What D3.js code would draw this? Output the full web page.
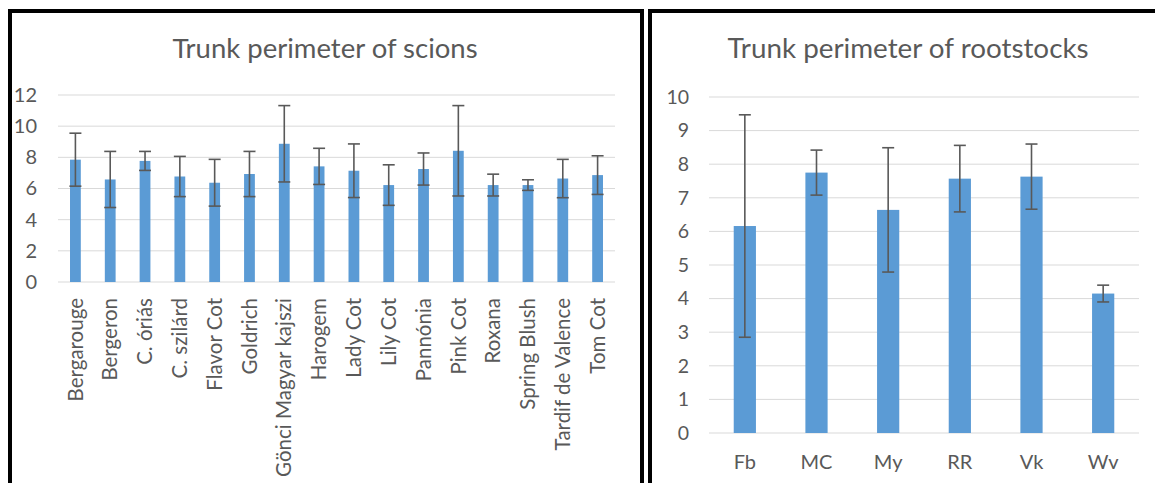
<!DOCTYPE html>
<html><head><meta charset="utf-8">
<script src="https://cdn.jsdelivr.net/npm/d3@7"></script>
<style>body{margin:0;background:#fff;} text{font-family:Lato,"Open Sans",sans-serif;fill:#595959;}</style>
</head><body>
<svg id="c" width="1155" height="483"></svg>
<script>
const scionCats = ["Bergarouge","Bergeron","C. óriás","C. szilárd","Flavor Cot","Goldrich","Gönci Magyar kajszi","Harogem","Lady Cot","Lily Cot","Pannónia","Pink Cot","Roxana","Spring Blush","Tardif de Valence","Tom Cot"];
const scionVals = [7.85,6.58,7.77,6.77,6.37,6.93,8.87,7.42,7.14,6.22,7.25,8.42,6.22,6.22,6.64,6.86];
const scionErr  = [1.70,1.80,0.61,1.29,1.50,1.45,2.45,1.16,1.72,1.30,1.03,2.90,0.70,0.34,1.23,1.24];
const scionTicks = [0,2,4,6,8,10,12];

const rootCats = ["Fb","MC","My","RR","Vk","Wv"];
const rootVals = [6.16,7.75,6.64,7.57,7.63,4.15];
const rootErr  = [3.31,0.67,1.85,0.99,0.97,0.25];
const rootTicks = [0,1,2,3,4,5,6,7,8,9,10];

const svg = d3.select("#c");
const BAR = "#5b9bd5", GRID = "#d9d9d9", ERR = "#595959";

// panel borders
svg.append("rect").attr("x",10).attr("y",11).attr("width",632).attr("height",490)
  .attr("fill","none").attr("stroke","#000").attr("stroke-width",4);
svg.append("rect").attr("x",650).attr("y",11).attr("width",520).attr("height",490)
  .attr("fill","none").attr("stroke","#000").attr("stroke-width",4);

function drawChart(cfg){
  const g = svg.append("g");
  const x = d3.scaleBand().domain(cfg.cats).range(cfg.xr).paddingInner(0.69).paddingOuter(0.345);
  const y = d3.scaleLinear().domain([0, cfg.ymax]).range(cfg.yr);
  // grid
  g.append("g").selectAll("line").data(cfg.ticks).join("line")
    .attr("x1",cfg.xr[0]).attr("x2",cfg.xr[1])
    .attr("y1",d=>y(d)).attr("y2",d=>y(d))
    .attr("stroke",GRID).attr("stroke-width",1);
  // y labels via axis
  const ya = g.append("g").attr("transform",`translate(${cfg.ylx},0)`)
    .call(d3.axisLeft(y).tickValues(cfg.ticks).tickSize(0).tickPadding(0));
  ya.select(".domain").remove();
  ya.selectAll("text").style("font-size",cfg.ysize+"px").style("fill","#595959").style("font-family","Lato, 'Open Sans', sans-serif");
  // bars
  g.append("g").selectAll("rect").data(cfg.vals).join("rect")
    .attr("x",(d,i)=>x(cfg.cats[i])).attr("width",x.bandwidth())
    .attr("y",d=>y(d)).attr("height",d=>y(0)-y(d)).attr("fill",BAR);
  // error bars
  const eg = g.append("g").attr("stroke",ERR).attr("stroke-width",1.6);
  cfg.vals.forEach((v,i)=>{
    const cx = x(cfg.cats[i]) + x.bandwidth()/2;
    const hi = y(v+cfg.err[i]), lo = y(v-cfg.err[i]);
    eg.append("line").attr("x1",cx).attr("x2",cx).attr("y1",hi).attr("y2",lo);
    eg.append("line").attr("x1",cx-6).attr("x2",cx+6).attr("y1",hi).attr("y2",hi);
    eg.append("line").attr("x1",cx-6).attr("x2",cx+6).attr("y1",lo).attr("y2",lo);
  });
  // title
  g.append("text").attr("x",cfg.tx).attr("y",cfg.ty).attr("text-anchor","middle")
    .style("font-size",cfg.tsize+"px").text(cfg.title);
  // x labels
  const xl = g.append("g").selectAll("text").data(cfg.cats).join("text")
    .style("font-size",cfg.xsize+"px").text(d=>d);
  if(cfg.rotate){
    xl.attr("text-anchor","end").attr("dy","0.35em")
      .attr("transform",d=>`translate(${x(d)+x.bandwidth()/2},${cfg.xly}) rotate(-90)`);
  } else {
    xl.attr("text-anchor","middle").attr("x",d=>x(d)+x.bandwidth()/2).attr("y",cfg.xly);
  }
}

drawChart({cats:scionCats, vals:scionVals, err:scionErr, ticks:scionTicks, ymax:12,
  xr:[58,615], yr:[282,95], ylx:37, ysize:20, title:"Trunk perimeter of scions", tx:325, ty:58, tsize:27.5,
  xsize:20.5, rotate:true, xly:298});
drawChart({cats:rootCats, vals:rootVals, err:rootErr, ticks:rootTicks, ymax:10,
  xr:[709,1139], yr:[433,97], ylx:689, ysize:19.5, title:"Trunk perimeter of rootstocks", tx:908, ty:58, tsize:27.8,
  xsize:20, rotate:false, xly:469});
</script>
</body></html>
